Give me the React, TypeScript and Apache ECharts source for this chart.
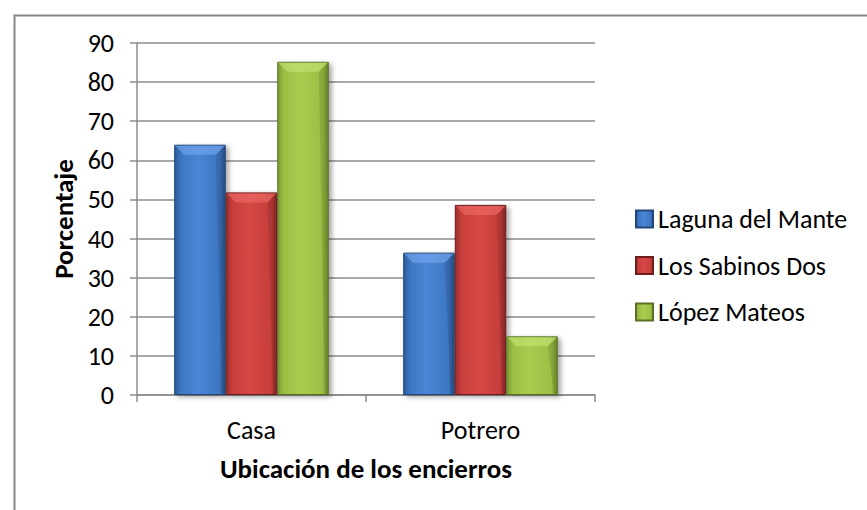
import React, { useEffect, useRef } from "react";
import * as echarts from "echarts";

const categories = ["Casa", "Potrero"];
const seriesNames = ["Laguna del Mante", "Los Sabinos Dos", "López Mateos"];
const lagunaValues = [64.0, 36.4];
const sabinosValues = [51.8, 48.6];
const lopezValues = [85.2, 15.0];
const yMin = 0;
const yMax = 90;
const yInterval = 10;
const xTitle = "Ubicación de los encierros";
const yTitle = "Porcentaje";

const FONT = "Carlito, Lato, sans-serif";
const CAT_GAP = 0.325;

function grad(edgeL: string, mid: string, light: string, edgeR: string) {
  return new echarts.graphic.LinearGradient(0, 0, 1, 0, [
    { offset: 0, color: edgeL },
    { offset: 0.12, color: mid },
    { offset: 0.45, color: light },
    { offset: 0.88, color: mid },
    { offset: 1, color: edgeR },
  ]);
}

export default function App() {
  const ref = useRef<HTMLDivElement>(null);
  useEffect(() => {
    if (!ref.current) return;
    document.body.style.margin = "0";
    document.documentElement.style.overflow = "hidden";
    const chart = echarts.init(ref.current, null, { renderer: "svg" });
    const shadow = {
      shadowBlur: 5,
      shadowOffsetX: 3,
      shadowOffsetY: 2,
      shadowColor: "rgba(0,0,0,0.35)",
    };
    const styles = [
      { color: grad("#2D5A96", "#3D76C2", "#4A86D4", "#2A5290"), borderColor: "#23467A" },
      { color: grad("#9A2E2C", "#C63E3B", "#D64845", "#922A28"), borderColor: "#6E1E1C" },
      { color: grad("#7C9A33", "#9BBE44", "#A8CB50", "#76932F"), borderColor: "#5A7024" },
    ];
    const data = [lagunaValues, sabinosValues, lopezValues];
    const bevelData: number[][] = [];
    data.forEach((vals, i) => vals.forEach((v, j) => bevelData.push([j, v, i])));
    const highlight = ["rgba(120,170,240,0.6)", "rgba(240,110,105,0.6)", "rgba(200,230,120,0.6)"];
    chart.setOption({
      animation: false,
      backgroundColor: "#ffffff",
      textStyle: { fontFamily: FONT },
      grid: { left: 137, right: 272, top: 43, bottom: 115, containLabel: false },
      tooltip: { show: false },
      legend: {
        orient: "vertical",
        left: 635,
        top: 206,
        itemWidth: 17,
        itemHeight: 17,
        itemGap: 20.5,
        padding: 0,
        icon: "rect",
        textStyle: { fontSize: 26, lineHeight: 26, color: "#000", fontFamily: FONT },
        data: seriesNames,
      },
      xAxis: {
        type: "category",
        data: categories,
        boundaryGap: true,
        axisLine: { lineStyle: { color: "#8C8C8C", width: 1.5 } },
        axisTick: { show: true, length: 7, alignWithLabel: false, lineStyle: { color: "#8C8C8C", width: 1.5 } },
        axisLabel: { fontSize: 26, color: "#000", margin: 22, fontFamily: FONT },
        name: xTitle,
        nameLocation: "middle",
        nameGap: 60,
        nameTextStyle: { fontSize: 27, fontWeight: "bold", color: "#000", fontFamily: FONT },
      },
      yAxis: {
        type: "value",
        min: yMin,
        max: yMax,
        interval: yInterval,
        axisLine: { show: true, lineStyle: { color: "#8C8C8C", width: 1.5 } },
        axisTick: { show: true, length: 7, lineStyle: { color: "#8C8C8C", width: 1.5 } },
        splitLine: { lineStyle: { color: "#8C8C8C", width: 1.5 } },
        axisLabel: { fontSize: 26, color: "#000", margin: 23, fontFamily: FONT },
        name: yTitle,
        nameLocation: "middle",
        nameGap: 58,
        nameRotate: 90,
        nameTextStyle: { fontSize: 27, fontWeight: "bold", color: "#000", fontFamily: FONT },
      },
      graphic: [
        {
          type: "rect",
          left: 12,
          top: 13,
          shape: { x: 0, y: 0, width: 1000, height: 1000 },
          style: { fill: "none", stroke: "#868686", lineWidth: 2 },
          silent: true,
          z: -1,
        },
      ],
      series: [
        ...seriesNames.map((name, i) => ({
          name,
          type: "bar",
          data: data[i],
          barGap: "0%",
          barCategoryGap: CAT_GAP * 100 + "%",
          itemStyle: { ...styles[i], borderWidth: 1, ...shadow },
        })),
        {
          type: "custom",
          name: "bevel",
          silent: true,
          z: 3,
          data: bevelData,
          renderItem: (params: any, api: any) => {
            const j = api.value(0);
            const v = api.value(1);
            const i = api.value(2);
            const catW = api.size([1, 0])[0];
            const barW = (catW * (1 - CAT_GAP)) / 3;
            const top = api.coord([j, v]);
            const base = api.coord([j, 0]);
            const x0 = top[0] - 1.5 * barW + i * barW + 1;
            const x1 = x0 + barW - 2;
            const y0 = top[1] + 1;
            const b = Math.min(9, (base[1] - y0) / 2);
            return {
              type: "group",
              children: [
                {
                  type: "polygon",
                  shape: { points: [[x0, y0], [x1, y0], [x1 - b, y0 + b], [x0 + b, y0 + b]] },
                  style: { fill: highlight[i] },
                },
                {
                  type: "polygon",
                  shape: { points: [[x1, y0], [x1, base[1] - 1], [x1 - 3, base[1] - 1], [x1 - b, y0 + b]] },
                  style: { fill: "rgba(0,0,0,0.10)" },
                },
              ],
            };
          },
        },
      ],
    });
    return () => chart.dispose();
  }, []);
  return (
    <div
      ref={ref}
      style={{ width: 867, height: 510, overflow: "hidden" }}
    />
  );
}
